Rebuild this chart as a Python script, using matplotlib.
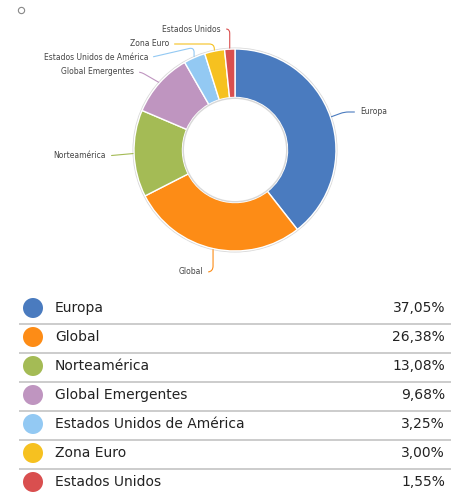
import numpy as np
import matplotlib
matplotlib.use("Agg")
import matplotlib.pyplot as plt
from matplotlib.patches import Circle

# --- Datos ---
regiones = ["Europa", "Global", "Norteamérica", "Global Emergentes",
            "Estados Unidos de América", "Zona Euro", "Estados Unidos"]
pesos = [37.05, 26.38, 13.08, 9.68, 3.25, 3.00, 1.55]
etiquetas_pct = ["37,05%", "26,38%", "13,08%", "9,68%", "3,25%", "3,00%", "1,55%"]
colores = ["#4a7bbf", "#fd8c16", "#a4bb55", "#bf95c0", "#93c9f3", "#f6c120", "#d94f4f"]

W, H = 462, 495
fig = plt.figure(figsize=(W / 100, H / 100), dpi=100)
ax = fig.add_axes([0, 0, 1, 1])

# coordenadas en pixeles (y desde arriba -> convertir)
def py(y):
    return H - y

cx, cy, R = 235, py(150), 101

wedges, _ = ax.pie(pesos, colors=colores, startangle=90, counterclock=False,
                   radius=R, center=(cx, cy),
                   wedgeprops=dict(width=R * 0.48, edgecolor="white", linewidth=1))

# sombra suave en los bordes
ax.add_patch(Circle((cx, cy), R + 0.8, fill=False, edgecolor="#d8d8d8", lw=1, zorder=0))
ax.add_patch(Circle((cx, cy), R * 0.52 - 0.8, fill=False, edgecolor="#d8d8d8", lw=1, zorder=3))

# etiquetas con lineas guia (x, y, alineacion, estilo de conexion)
pos_texto = [(360, 112, "left", "angle,angleA=180,angleB=20,rad=4"),
             (203, 272, "right", "angle,angleA=0,angleB=90,rad=6"),
             (106, 156, "right", "arc3,rad=0"),
             (134, 72, "right", "angle,angleA=0,angleB=-30,rad=4"),
             (148, 58, "right", "angle,angleA=13,angleB=90,rad=5"),
             (169, 44, "right", "angle,angleA=0,angleB=90,rad=5"),
             (221, 29, "right", "angle,angleA=0,angleB=90,rad=4")]
for w, nombre, col, (tx, ty, ha, estilo) in zip(wedges, regiones, colores, pos_texto):
    ang = np.deg2rad((w.theta1 + w.theta2) / 2)
    px = cx + (R + 1) * np.cos(ang)
    pyy = cy + (R + 1) * np.sin(ang)
    relx = 0 if ha == "left" else 1
    ax.annotate(nombre, xy=(px, pyy), xytext=(tx, py(ty)), ha=ha, va="center",
                fontsize=5.5, color="#444444",
                arrowprops=dict(arrowstyle="-", color=col, lw=0.8,
                                connectionstyle=estilo,
                                relpos=(relx, 0.5), shrinkA=2, shrinkB=0))

# circulito arriba a la izquierda
ax.plot([21], [py(10)], marker="o", markersize=4.5, markerfacecolor="white",
        markeredgecolor="#888888", markeredgewidth=0.8)

# tabla / leyenda
y0, paso = 308, 29
for i, (nombre, pct, col) in enumerate(zip(regiones, etiquetas_pct, colores)):
    yy = py(y0 + i * paso)
    ax.add_patch(Circle((33, yy), 10, facecolor=col, edgecolor="none"))
    ax.text(55, yy, nombre, fontsize=10, color="#222222", va="center", ha="left")
    ax.text(445, yy, pct, fontsize=10, color="#222222", va="center", ha="right")
    if i < len(regiones) - 1:
        ly = py(y0 + i * paso + 16)
        ax.plot([19, 451], [ly, ly], color="#c8c8c8", lw=1.3, solid_capstyle="butt")

ax.set_xlim(0, W)
ax.set_ylim(0, H)
ax.set_aspect("equal")
ax.axis("off")

fig.savefig("out.png", dpi=100, facecolor="white")
